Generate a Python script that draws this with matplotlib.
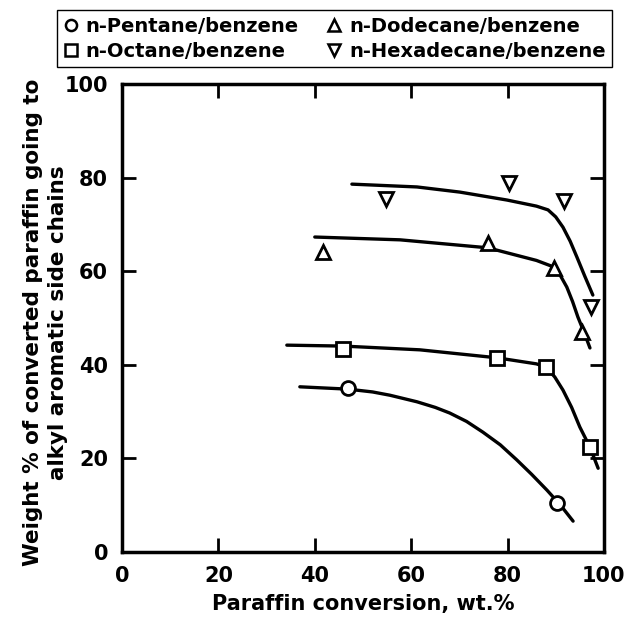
import numpy as np
import matplotlib
matplotlib.use("Agg")
import matplotlib.pyplot as plt
from matplotlib.lines import Line2D

plt.rcParams['font.family'] = ['DejaVu Sans']
plt.rcParams['font.weight'] = 'bold'

# measured points (paraffin conversion wt.%, weight %)
pent_x = [46.9, 90.2]
pent_y = [35.0, 10.5]
oct_x = [45.9, 77.8, 88.0, 97.1]
oct_y = [43.4, 41.5, 39.5, 22.4]
dodec_x = [41.7, 75.9, 89.6, 95.4]
dodec_y = [64.1, 66.0, 60.7, 47.0]
hexdec_x = [54.8, 80.3, 91.7, 97.3]
hexdec_y = [75.4, 78.8, 75.0, 52.3]

# hand drawn trend lines
pent_cx = [36.9, 46.9, 52.0, 55.6, 61.2, 65.0, 68.0, 71.5, 74.9, 78.5, 81.9, 85.0, 88.2, 91.0, 93.6]
pent_cy = [35.3, 34.8, 34.2, 33.5, 32.1, 30.9, 29.7, 27.9, 25.6, 22.9, 19.7, 16.6, 13.2, 10.0, 6.6]
oct_cx = [34.2, 45.9, 61.8, 77.8, 86.0, 88.0, 89.8, 91.5, 93.3, 95.0, 97.1, 98.8]
oct_cy = [44.2, 44.0, 43.2, 41.5, 40.2, 39.5, 37.4, 34.6, 30.9, 26.7, 22.4, 17.9]
dodec_cx = [40.0, 57.7, 75.9, 86.0, 89.6, 91.0, 92.3, 93.5, 94.6, 95.9, 97.1]
dodec_cy = [67.3, 66.7, 65.0, 62.3, 60.9, 59.0, 56.6, 53.5, 50.2, 46.9, 43.6]
hexdec_cx = [47.7, 61.2, 70.1, 79.9, 86.0, 88.4, 90.0, 91.5, 93.0, 94.4, 96.0, 97.7]
hexdec_cy = [78.6, 78.0, 76.9, 75.2, 73.9, 73.1, 71.6, 69.4, 66.4, 63.0, 59.0, 54.9]

labels = ["n-Pentane/benzene", "n-Octane/benzene",
          "n-Dodecane/benzene", "n-Hexadecane/benzene"]

fig = plt.figure(figsize=(6.27, 6.17), dpi=100)
ax = fig.add_axes([0.1946, 0.1053, 0.7686, 0.7586])

curves = [(pent_cx, pent_cy), (oct_cx, oct_cy), (dodec_cx, dodec_cy), (hexdec_cx, hexdec_cy)]
for cx, cy in curves:
    ax.plot(cx, cy, color='black', lw=2.4, zorder=2, solid_capstyle='round', solid_joinstyle='round')

pts = [(pent_x, pent_y, 'o'), (oct_x, oct_y, 's'), (dodec_x, dodec_y, '^'), (hexdec_x, hexdec_y, 'v')]
handles = []
for (px, py, m), lab in zip(pts, labels):
    ax.plot(px, py, linestyle='none', marker=m, ms=10, mfc='white', mec='black', mew=2, zorder=3)
    handles.append(Line2D([], [], linestyle='none', marker=m, ms=8, mfc='white',
                          mec='black', mew=1.8, label=lab))

ax.set_xlim(0, 100)
ax.set_ylim(0, 100)
ax.set_xticks([0, 20, 40, 60, 80, 100])
ax.set_yticks([0, 20, 40, 60, 80, 100])
ax.tick_params(direction='in', length=10, width=2, top=True, right=True,
               labelsize=15, pad=10)
for s in ax.spines.values():
    s.set_linewidth(2.5)

ax.set_xlabel("Paraffin conversion, wt.%", fontsize=15, fontweight='bold', labelpad=6)
ax.set_ylabel("Weight % of converted paraffin going to\nalkyl aromatic side chains",
              fontsize=15.5, fontweight='bold', linespacing=1.3)
ax.yaxis.set_label_coords(-0.112, 0.49)

# legend order: column 1 pentane, octane; column 2 dodecane, hexadecane
fig.legend(handles=handles, loc='upper center', bbox_to_anchor=(0.534, 0.984), ncol=2,
           fancybox=False, edgecolor='black', framealpha=1, fontsize=14,
           handlelength=0.7, handletextpad=0.4, columnspacing=1.5,
           borderpad=0.35, labelspacing=0.3, borderaxespad=0)

fig.savefig("out.png", dpi=100)
